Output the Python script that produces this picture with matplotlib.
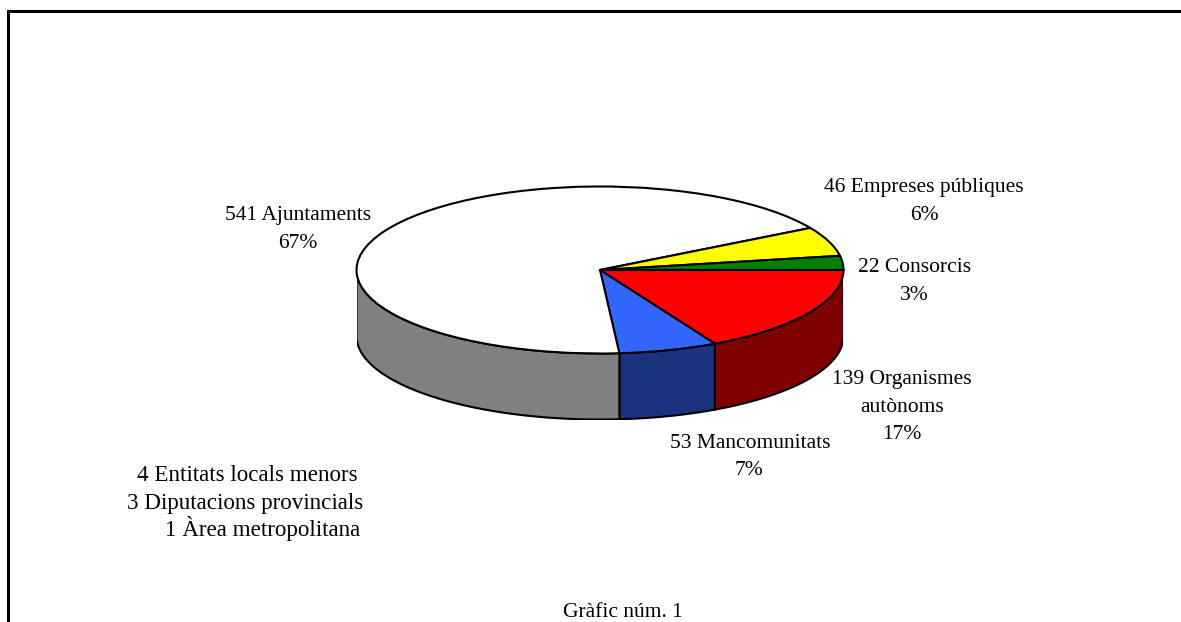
import numpy as np
import matplotlib
matplotlib.use("Agg")
import matplotlib.pyplot as plt
from matplotlib.patches import Polygon

W, H = 1181, 622
plt.rcParams['font.family'] = ['Liberation Serif', 'DejaVu Serif']

# Data, clockwise from 3 o'clock
slice_names = ['Organismes autònoms', 'Mancomunitats', 'Ajuntaments i altres', 'Empreses públiques', 'Consorcis']
slice_values = [139, 53, 541 + 4 + 3 + 1, 46, 22]
top_colors = ['#ff0000', '#3366ff', '#ffffff', '#ffff00', '#008000']
side_colors = ['#800000', '#19337f', '#808080', '#808000', '#004000']

# text line, x centre, baseline y
label_lines = [
    ('541 Ajuntaments', 298, 220), ('67%', 298, 248),
    ('46 Empreses públiques', 924, 192), ('6%', 924, 220),
    ('22 Consorcis', 914.5, 272), ('3%', 914.5, 300),
    ('139 Organismes', 902, 384), ('autònoms', 902, 412), ('17%', 902, 439),
    ('53 Mancomunitats', 750, 448), ('7%', 749, 475),
]
small_lines = [
    ('4 Entitats locals menors', 357.5, 481),
    ('3 Diputacions provincials', 363, 509),
    ('1 Àrea metropolitana', 360.5, 536),
]
caption = ('Gràfic núm. 1', 623, 617)

fig = plt.figure(figsize=(W / 100, H / 100), dpi=100, facecolor='white')

# Pixel-space overlay for frame and text
bg = fig.add_axes([0, 0, 1, 1])
bg.set_xlim(0, W)
bg.set_ylim(H, 0)
bg.axis('off')
bg.plot([7.5, 7.5, W + 5], [H + 5, 10.5, 10.5], color='black', lw=2.2, solid_joinstyle='miter', clip_on=True)

# Pie axes: unit ellipse stretched over the top face, extended below for the wall
left, right, top, mid_bottom, wall = 356.5, 843.5, 186.5, 353.5, 66.0
ry = (mid_bottom - top) / 2
depth = wall / ry
bottom = mid_bottom + wall
ax = fig.add_axes([left / W, 1 - bottom / H, (right - left) / W, (bottom - top) / H])
ax.axis('off')

lw = 1.5
fr = np.cumsum([0] + slice_values) / sum(slice_values) * 360.0
# Wall, only the visible front half (0..-180 degrees)
for i in range(len(slice_values)):
    a0, a1 = -fr[i], -fr[i + 1]
    a0c, a1c = min(a0, 0), max(a1, -180)
    if a1c >= a0c:
        continue
    t = np.radians(np.linspace(a0c, a1c, 120))
    x, y = np.cos(t), np.sin(t)
    pts = np.r_[np.c_[x, y], np.c_[x[::-1], y[::-1] - depth]]
    ax.add_patch(Polygon(pts, closed=True, fc=side_colors[i], ec='black', lw=lw, zorder=1))

ax.pie(slice_values, colors=top_colors, startangle=0, counterclock=False, radius=1, center=(0, 0),
       wedgeprops=dict(edgecolor='black', linewidth=lw, zorder=2), frame=False)
ax.set_aspect('auto')
ax.set_xlim(-1, 1)
ax.set_ylim(-1 - depth, 1)
ax.axis('off')

fs = 15.5
for s, x, y in label_lines:
    bg.text(x, y, s, ha='center', va='baseline', fontsize=fs, color='black')
for s, x, y in small_lines:
    bg.text(x, y, s, ha='right', va='baseline', fontsize=16.6, color='black')
bg.text(caption[1], caption[2], caption[0], ha='center', va='baseline', fontsize=fs, color='black')

fig.savefig('out.png', dpi=100, facecolor='white')
